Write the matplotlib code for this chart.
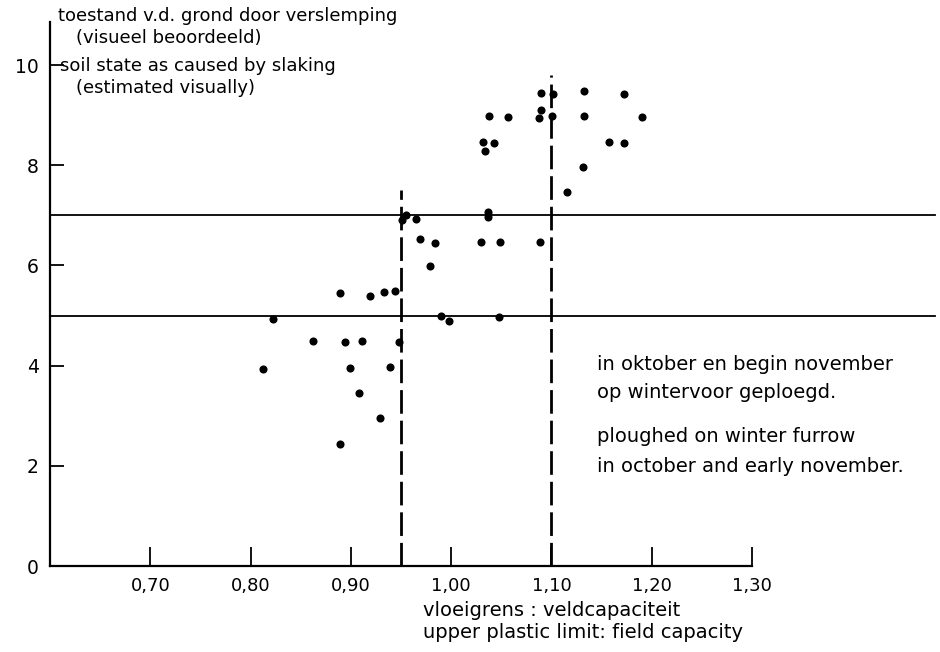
import numpy as np
import matplotlib.pyplot as plt

plt.rcParams.update({
    "font.family": "DejaVu Sans",
    "lines.scale_dashes": False,
})

# ratio upper plastic limit : field capacity
ratio = [0.951, 0.955, 0.965, 1.037, 1.037, 0.969, 0.984, 1.030, 1.049, 0.979,
         0.889, 0.919, 0.933, 0.944, 0.822, 0.990, 0.998, 1.048, 0.862, 0.894,
         0.911, 0.948, 0.812, 0.899, 0.939, 0.908, 0.929, 0.889,
         1.090, 1.102, 1.132, 1.172, 1.038, 1.057, 1.090, 1.088, 1.101, 1.132,
         1.190, 1.032, 1.034, 1.043, 1.157, 1.172, 1.131, 1.116, 1.089]
# soil state (visual score)
state = [6.91, 7.01, 6.92, 7.07, 6.97, 6.53, 6.45, 6.46, 6.47, 5.99,
         5.44, 5.40, 5.46, 5.48, 4.94, 4.99, 4.90, 4.98, 4.49, 4.47,
         4.49, 4.47, 3.93, 3.96, 3.98, 3.45, 2.95, 2.44,
         9.45, 9.42, 9.49, 9.42, 8.98, 8.96, 9.10, 8.94, 8.98, 8.98,
         8.96, 8.47, 8.29, 8.45, 8.47, 8.45, 7.96, 7.47, 6.47]

hlines = [5, 7]
vline_x = [0.95, 1.10]
vline_top = [7.5, 9.8]

xticks = [0.70, 0.80, 0.90, 1.00, 1.10, 1.20, 1.30]
xticklabels = ["0,70", "0,80", "0,90", "1,00", "1,10", "1,20", "1,30"]
yticks = [0, 2, 4, 6, 8, 10]

W, H = 940, 652
fig = plt.figure(figsize=(W / 100, H / 100), dpi=100)
ax = fig.add_axes([50 / W, (H - 566) / H, 702 / W, 544 / H])

ax.scatter(ratio, state, s=34, c="black", zorder=3, linewidths=0)

for y in hlines:
    ax.axhline(y, xmin=0, xmax=1.26, color="black", lw=1.3, clip_on=False)

for x, top in zip(vline_x, vline_top):
    ax.plot([x, x], [0, top], color="black", lw=2, dashes=(17, 5),
            dash_capstyle="butt")

ax.set_xlim(0.60, 1.30)
ax.set_ylim(0, 10.86)

for s in ["top", "right"]:
    ax.spines[s].set_visible(False)
ax.spines["left"].set_linewidth(1.6)
ax.spines["bottom"].set_linewidth(1.6)

ax.set_xticks(xticks)
ax.set_xticklabels(xticklabels, fontsize=13)
ax.set_yticks(yticks)
ax.set_yticklabels([str(v) for v in yticks], fontsize=13.5)
ax.tick_params(axis="x", direction="in", length=14, width=1.3, pad=8)
ax.tick_params(axis="y", direction="in", length=10, width=1.3, pad=8)


def ftext(px, py, s, size=13):
    fig.text(px / W, 1 - py / H, s, fontsize=size, va="center", ha="left")


ftext(58, 16, "toestand v.d. grond door verslemping")
ftext(76, 38, "(visueel beoordeeld)")
ftext(60, 66, "soil state as caused by slaking")
ftext(76, 88, "(estimated visually)")

ftext(597, 364, "in oktober en begin november", 14)
ftext(597, 392, "op wintervoor geploegd.", 14)
ftext(597, 436, "ploughed on winter furrow", 14)
ftext(597, 466, "in october and early november.", 14)

ftext(423, 610, "vloeigrens : veldcapaciteit", 14)
ftext(423, 633, "upper plastic limit: field capacity", 14)

fig.savefig("out.png", dpi=100, facecolor="white")
